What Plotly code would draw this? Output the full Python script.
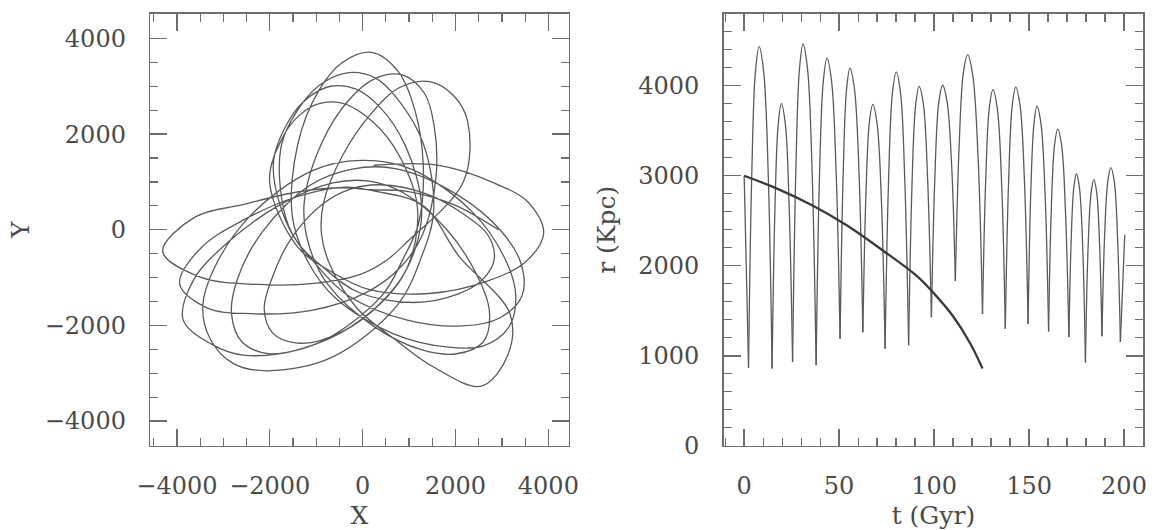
import numpy as np
import plotly.graph_objects as go

# ---------------- Right panel: r(t) ----------------
t_orbit = [0.0, 1.1, 2.3,
           4.0, 5.9, 7.9, 10.3, 12.7, 14.7,
           16.2, 17.9, 19.6, 21.7, 23.7, 25.5,
           27.2, 29.1, 31.0, 33.4, 35.8, 37.9,
           39.6, 41.6, 43.6, 46.0, 48.4, 50.5,
           52.1, 53.9, 55.7, 58.1, 60.5, 62.5,
           64.1, 65.9, 67.7, 70.0, 72.3, 74.2,
           76.0, 78.0, 80.1, 82.4, 84.6, 86.6,
           88.3, 90.2, 92.1, 94.4, 96.6, 98.6,
           100.4, 102.4, 104.5, 106.8, 109.2, 111.2,
           113.2, 115.4, 117.7, 120.4, 123.2, 125.5,
           127.2, 129.1, 131.0, 133.3, 135.6, 137.5,
           139.2, 141.1, 143.0, 145.3, 147.6, 149.5,
           150.9, 152.6, 154.2, 156.3, 158.5, 160.3,
           161.7, 163.4, 165.1, 167.2, 169.2, 171.0,
           172.2, 173.6, 175.0, 176.6, 178.3, 179.7,
           181.0, 182.6, 184.1, 185.6, 187.1, 188.4,
           189.8, 191.5, 193.1, 194.9, 196.6, 198.1,
           200.4]
r_orbit = [3000, 2000, 867,
           3010, 4150, 4434, 4150, 3000, 860,
           2620, 3565, 3800, 3570, 2650, 933,
           3050, 4180, 4463, 4180, 3035, 897,
           2940, 4030, 4305, 4055, 3060, 1190,
           2990, 3955, 4195, 3960, 3020, 1263,
           2780, 3590, 3792, 3575, 2705, 1080,
           2920, 3905, 4150, 3905, 2935, 1117,
           2845, 3765, 3993, 3790, 2965, 1428,
           2975, 3800, 4005, 3830, 3135, 1830,
           3335, 4140, 4342, 4110, 3190, 1465,
           2960, 3760, 3957, 3745, 2895, 1300,
           2910, 3770, 3983, 3775, 2930, 1355,
           2805, 3580, 3774, 3575, 2770, 1270,
           2620, 3335, 3517, 3330, 2595, 1208,
           2295, 2875, 3022, 2855, 2185, 925,
           2145, 2795, 2957, 2820, 2260, 1217,
           2340, 2940, 3089, 2935, 2315, 1154,
           2345]

t_decay = [0, 17, 36, 54, 73, 91, 100.5, 110, 119, 125.5]
r_decay = [3000, 2860, 2670, 2450, 2170, 1885, 1680, 1440, 1140, 860]

# ---------------- Left panel: orbit in the X-Y plane ----------------
# waypoints along the orbit (polar angle in degrees, radius)
orbit_theta = [0, 15, 40, 80,
               115, 150, 168, 176, 186, 196, 207, 227, 267, 307,
               346, 385, 405, 415, 425, 435, 446, 466, 506, 546,
               586, 626, 647, 658, 668, 680, 691, 705, 741, 792,
               833, 874, 895, 906, 916, 926, 936, 957, 996, 1036,
               1075, 1115, 1135, 1145, 1155, 1165, 1176, 1196, 1237, 1277,
               1317, 1357, 1377, 1388, 1398, 1408, 1419, 1440, 1481, 1522,
               1563, 1604, 1625, 1636, 1646, 1656, 1666, 1687, 1726, 1766,
               1806, 1846, 1866, 1877, 1887, 1897, 1908, 1928, 1969, 2009,
               2048, 2087, 2107, 2117, 2127, 2137, 2148, 2169, 2210, 2251,
               2292, 2333, 2354, 2365, 2375, 2385, 2395, 2416, 2455, 2495,
               2535, 2574, 2595, 2605, 2615, 2625, 2636, 2656, 2697, 2737,
               2777, 2817, 2837, 2848, 2858, 2868, 2879, 2899, 2940, 2980,
               3021, 3061, 3081, 3092, 3102, 3112, 3122, 3143, 3182, 3222,
               3262, 3302, 3322, 3333, 3343, 3353, 3364, 3385, 3425, 3466,
               3506, 3546, 3567, 3578, 3588, 3598, 3608, 3629, 3668, 3708,
               3748, 3787, 3808, 3818, 3828, 3838, 3849, 3869, 3909, 3949,
               3989, 4029, 4049, 4060, 4070, 4080, 4091, 4113, 4154, 4195,
               4236, 4277, 4298, 4309, 4319, 4329, 4339, 4360, 4400]
orbit_rad = [2925, 2030, 1250, 850,
             970, 1590, 2590, 3640, 4330, 3615, 2520, 1535, 935, 820,
             1000, 2400, 3200, 3420, 3420, 3080, 2420, 1600, 1015, 890,
             1015, 1650, 2400, 3250, 4150, 4080, 3630, 2150, 1400, 850,
             970, 1575, 2540, 3485, 4100, 3730, 2985, 2010, 1290, 1130,
             1290, 1930, 2680, 3150, 3350, 3180, 2740, 2015, 1370, 1200,
             1370, 2040, 2820, 3290, 3500, 3220, 2635, 1815, 1170, 1025,
             1170, 1865, 2900, 3785, 4300, 4050, 3650, 2600, 1450, 1060,
             1210, 1880, 2755, 3400, 3715, 3530, 3060, 2270, 1545, 1355,
             1545, 2275, 3075, 3560, 3750, 3585, 3160, 2390, 1650, 1450,
             1650, 2435, 3290, 3800, 4000, 3950, 3600, 2750, 1750, 1390,
             1585, 2225, 2850, 3185, 3300, 3200, 2950, 2450, 1600, 1235,
             1410, 2120, 2950, 3480, 3700, 3495, 3005, 2190, 1470, 1290,
             1470, 2155, 2890, 3330, 3500, 3290, 2820, 2040, 1370, 1200,
             1370, 1975, 2600, 2950, 3080, 3000, 2800, 2350, 1500, 1150,
             1310, 1880, 2460, 2785, 2900, 2690, 2225, 1555, 1015, 890,
             1015, 1555, 2225, 2690, 2900, 2785, 2470, 1890, 1320, 1160,
             1320, 1870, 2400, 2695, 2800, 2750, 2600, 2250, 1450, 1100,
             1255, 1955, 2880, 3565, 3900, 3620, 3000, 2100, 1370]

th = np.radians(np.array(orbit_theta, dtype=float))
rr = np.array(orbit_rad, dtype=float)
x_xy = rr * np.cos(th)
y_xy = rr * np.sin(th)

LINE = "#5a5a5a"
FRAME = "#6e6e6e"
TXT = "#4a4a4a"
TICKFONT = dict(family="DejaVu Serif", size=24, color=TXT)
TITLEFONT = dict(family="DejaVu Serif", size=25, color=TXT)

fig = go.Figure()

fig.add_trace(go.Scatter(x=x_xy, y=y_xy, mode="lines",
                         line=dict(color=LINE, width=1.3, shape="spline", smoothing=1.0),
                         xaxis="x", yaxis="y", hoverinfo="skip", showlegend=False))

# split r(t) at pericentres so that the minima stay sharp
tt = np.array(t_orbit)
ro = np.array(r_orbit)
cuts = [0] + [i for i in range(1, len(ro) - 1) if ro[i] < ro[i - 1] and ro[i] < ro[i + 1]] + [len(ro) - 1]
for a, b in zip(cuts[:-1], cuts[1:]):
    fig.add_trace(go.Scatter(x=tt[a:b + 1], y=ro[a:b + 1], mode="lines",
                             line=dict(color=LINE, width=1.3, shape="spline", smoothing=1.0),
                             xaxis="x2", yaxis="y2", hoverinfo="skip", showlegend=False))

fig.add_trace(go.Scatter(x=t_decay, y=r_decay, mode="lines",
                         line=dict(color="#3a3a3a", width=2.3, shape="spline", smoothing=1.0),
                         xaxis="x2", yaxis="y2", hoverinfo="skip", showlegend=False))


def ax(domain, rng, dtick, minor, title, standoff, anchor):
    return dict(domain=domain, range=rng, dtick=dtick, tick0=0,
                showgrid=False, zeroline=False,
                showline=True, linecolor=FRAME, linewidth=1.5, mirror="ticks",
                ticks="inside", ticklen=17, tickwidth=1.4, tickcolor=FRAME,
                minor=dict(ticks="inside", ticklen=8, tickwidth=1.2, tickcolor=FRAME,
                           dtick=minor, tick0=0, showgrid=False),
                tickfont=TICKFONT, ticklabelstandoff=18,
                title=dict(text=title, font=TITLEFONT, standoff=standoff),
                anchor=anchor, fixedrange=True)


yd = [72 / 530, 516 / 530]
fig.update_layout(
    width=1162, height=530, autosize=False,
    margin=dict(l=0, r=0, t=0, b=0),
    paper_bgcolor="white", plot_bgcolor="white",
    xaxis=ax([140 / 1162, 567 / 1162], [-4575, 4440], 2000, 500, "X", 12, "y"),
    yaxis=ax(yd, [-4520, 4520], 2000, 500, "Y", 8, "x"),
    xaxis2=ax([725 / 1162, 1153 / 1162], [-10.8, 210.1], 50, 10, "t (Gyr)", 12, "y2"),
    yaxis2=ax(yd, [0, 4800], 1000, 200, "r (Kpc)", 15, "x2"),
)

fig.write_html("out.html", config={"displayModeBar": False, "staticPlot": True})
